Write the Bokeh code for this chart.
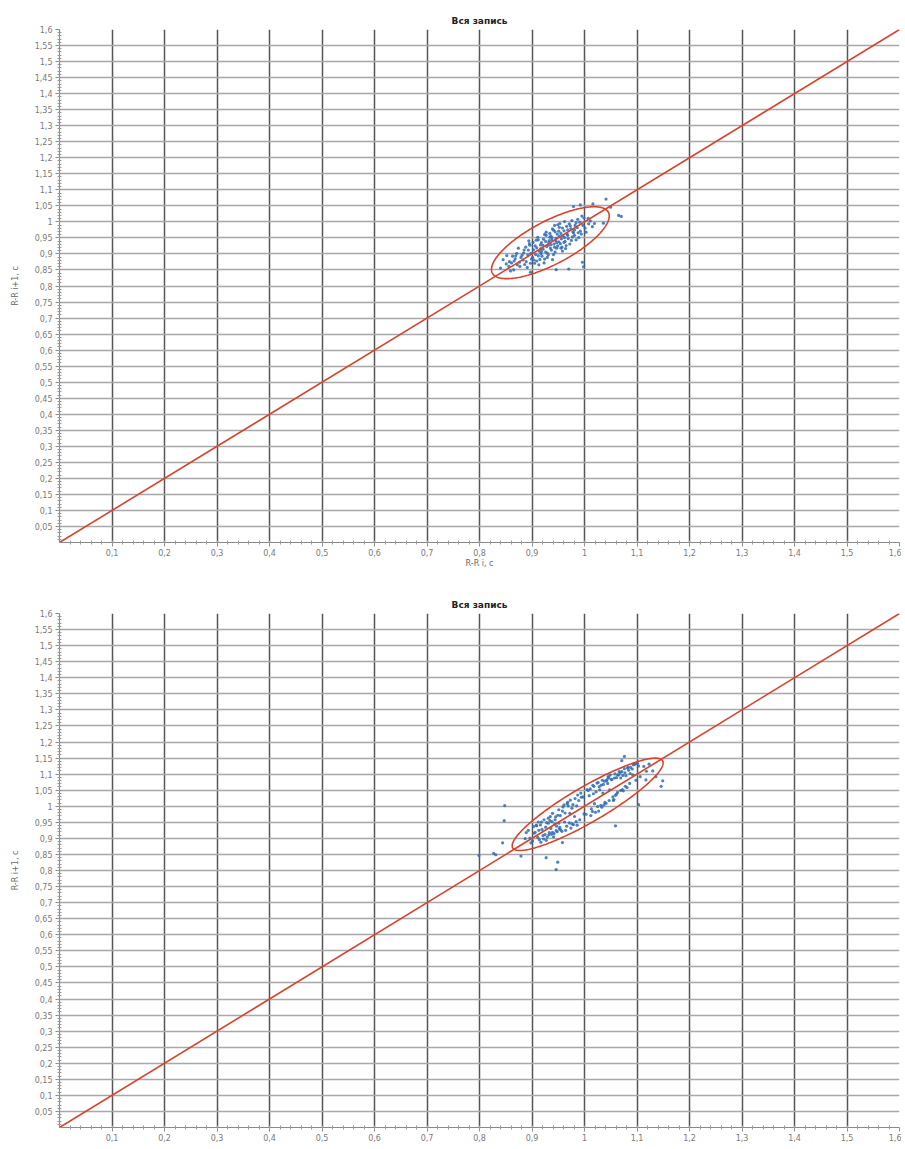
import numpy as np
from bokeh.plotting import figure
from bokeh.layouts import column
from bokeh.models import FixedTicker
from bokeh.embed import file_html
from bokeh.resources import INLINE

title_text = "Вся запись"
x_label = "R-R i, c"
y_label = "R-R i+1, c"

x_ticks = [0.1, 0.2, 0.3, 0.4, 0.5, 0.6, 0.7, 0.8, 0.9, 1.0, 1.1, 1.2, 1.3, 1.4, 1.5, 1.6]
x_tick_labels = ["0,1", "0,2", "0,3", "0,4", "0,5", "0,6", "0,7", "0,8", "0,9", "1",
                 "1,1", "1,2", "1,3", "1,4", "1,5", "1,6"]
y_ticks = [0.05, 0.1, 0.15, 0.2, 0.25, 0.3, 0.35, 0.4, 0.45, 0.5, 0.55, 0.6, 0.65, 0.7, 0.75, 0.8,
           0.85, 0.9, 0.95, 1.0, 1.05, 1.1, 1.15, 1.2, 1.25, 1.3, 1.35, 1.4, 1.45, 1.5, 1.55, 1.6]
y_tick_labels = ["0,05", "0,1", "0,15", "0,2", "0,25", "0,3", "0,35", "0,4", "0,45", "0,5", "0,55",
                 "0,6", "0,65", "0,7", "0,75", "0,8", "0,85", "0,9", "0,95", "1", "1,05", "1,1",
                 "1,15", "1,2", "1,25", "1,3", "1,35", "1,4", "1,45", "1,5", "1,55", "1,6"]

identity_line = [0.0, 1.6]

# chart 1: (RR_i, RR_i+1) pairs
rr1_pairs = [
    (0.912, 0.944), (0.957, 0.921), (0.884, 0.903), (0.973, 0.988), (0.931, 0.897), (0.866, 0.878),
    (0.948, 0.962), (0.992, 0.971), (0.905, 0.871), (0.938, 0.951), (0.877, 0.861), (0.963, 0.939),
    (1.008, 0.994), (0.921, 0.915), (0.896, 0.927), (0.952, 0.983), (0.859, 0.847), (0.981, 0.958),
    (0.927, 0.958), (0.944, 0.906), (0.871, 0.902), (0.999, 1.012), (0.915, 0.883), (0.967, 0.962),
    (0.889, 0.876), (0.936, 0.929), (0.956, 0.947), (0.902, 0.936), (0.984, 0.997), (0.923, 0.872),
    (0.851, 0.869), (0.975, 0.942), (0.941, 0.974), (0.893, 0.912), (0.962, 1.001), (1.015, 0.985),
    (0.918, 0.935), (0.879, 0.889), (0.947, 0.918), (0.907, 0.898), (0.989, 0.951), (0.933, 0.942),
    (0.968, 0.975), (0.863, 0.893), (0.954, 0.932), (0.926, 0.906), (0.899, 0.884), (0.979, 0.966),
    (0.943, 0.989), (0.911, 0.952), (0.886, 0.867), (0.959, 0.956), (1.003, 0.968), (0.928, 0.923),
    (0.874, 0.918), (0.939, 0.882), (0.971, 0.994), (0.917, 0.901), (0.951, 0.938), (0.894, 0.941),
    (0.986, 0.982), (0.934, 0.964), (0.909, 0.878), (0.964, 0.917), (0.881, 0.896), (0.946, 0.949),
    (0.997, 0.989), (0.922, 0.946), (0.856, 0.861), (0.977, 0.953), (0.937, 0.912), (0.903, 0.913),
    (0.961, 0.972), (0.929, 0.889), (1.011, 1.003), (0.891, 0.858), (0.953, 0.995), (0.916, 0.928),
    (0.969, 0.948), (0.942, 0.931), (0.876, 0.874), (0.987, 1.008), (0.924, 0.961), (0.958, 0.909),
    (0.898, 0.902), (0.944, 0.969), (0.913, 0.866), (0.974, 0.979), (0.932, 0.936), (0.868, 0.885),
    (0.994, 0.962), (0.949, 0.925), (0.906, 0.925), (0.966, 0.986), (0.919, 0.893), (0.888, 0.921),
    (0.981, 0.975), (0.935, 0.918), (0.955, 0.964), (0.901, 0.889), (1.019, 0.995), (0.926, 0.939),
    (0.972, 0.931), (0.883, 0.881), (0.945, 0.942), (0.914, 0.909), (0.991, 0.999), (0.939, 0.978),
    (0.861, 0.872), (0.962, 0.951), (0.908, 0.943), (0.929, 0.903), (0.984, 0.944), (0.952, 0.955),
    (0.897, 0.871), (0.921, 0.927), (0.976, 1.004), (0.941, 0.898), (0.872, 0.866), (0.958, 0.981),
    (0.917, 0.917), (1.001, 0.981), (0.934, 0.952), (0.892, 0.897), (0.965, 0.926), (0.947, 0.935),
    (0.909, 0.919), (0.982, 0.989), (0.924, 0.884), (0.869, 0.894), (0.951, 0.971), (0.938, 0.944),
    (0.995, 1.018), (0.912, 0.894), (0.968, 0.958), (0.885, 0.912), (0.943, 0.921), (1.007, 1.011),
    (0.927, 0.968), (0.961, 0.936), (0.904, 0.881), (0.978, 0.969), (0.931, 0.927), (0.857, 0.876),
    (0.949, 0.991), (0.918, 0.907), (0.988, 0.966), (0.895, 0.932), (0.955, 0.918), (0.936, 0.956),
    (1.041, 1.071), (1.050, 1.046), (1.070, 1.017), (1.065, 1.020), (1.036, 0.996), (0.996, 0.874),
    (1.016, 1.056), (0.992, 1.053), (0.979, 1.048), (0.998, 0.860), (0.970, 0.853), (0.946, 0.851),
    (0.897, 0.843), (0.865, 0.850), (0.840, 0.856), (0.845, 0.882), (0.852, 0.895),
]
ellipse1 = {"center": 0.935, "sd1": 0.057, "sd2": 0.148}

# chart 2
rr2_pairs = [
    (0.912, 0.951), (1.034, 1.081), (0.948, 0.921), (1.071, 1.108), (0.993, 1.041), (0.927, 0.894),
    (1.056, 1.021), (0.968, 1.012), (1.012, 0.971), (0.903, 0.937), (1.088, 1.121), (0.951, 0.989),
    (1.027, 0.985), (0.935, 0.968), (1.063, 1.098), (0.986, 0.941), (0.921, 0.909), (1.045, 1.092),
    (0.974, 0.932), (1.098, 1.081), (0.941, 0.905), (1.018, 1.062), (0.896, 0.901), (1.052, 1.083),
    (0.959, 0.998), (1.081, 1.058), (0.931, 0.947), (1.007, 1.049), (0.964, 0.925), (1.039, 1.012),
    (0.917, 0.888), (1.076, 1.117), (0.982, 1.024), (1.024, 1.072), (0.944, 0.958), (1.059, 1.034),
    (0.908, 0.941), (1.093, 1.129), (0.971, 0.948), (1.013, 0.992), (0.937, 0.913), (1.047, 1.018),
    (0.889, 0.918), (1.068, 1.104), (0.955, 0.926), (1.031, 1.003), (0.923, 0.958), (1.084, 1.112),
    (0.991, 0.958), (1.042, 1.079), (0.949, 0.972), (1.016, 1.065), (0.914, 0.896), (1.061, 1.089),
    (0.978, 1.005), (1.103, 1.125), (0.933, 0.918), (1.028, 1.061), (0.962, 0.951), (1.074, 1.048),
    (0.901, 0.892), (1.049, 1.097), (0.987, 1.035), (1.021, 0.981), (0.946, 0.924), (1.091, 1.116),
    (0.926, 0.935), (1.036, 1.068), (0.969, 1.001), (1.066, 1.108), (0.918, 0.951), (1.003, 0.975),
    (0.953, 0.934), (1.079, 1.095), (0.939, 0.978), (1.054, 1.029), (0.984, 0.952), (1.011, 1.054),
    (0.893, 0.925), (1.072, 1.052), (0.958, 0.985), (1.033, 0.997), (0.929, 0.904), (1.086, 1.071),
    (0.997, 1.029), (1.044, 1.071), (0.943, 0.944), (1.019, 1.008), (0.906, 0.919), (1.058, 1.101),
    (0.976, 0.945), (1.097, 1.132), (0.934, 0.955), (1.026, 1.074), (0.966, 0.938), (1.069, 1.088),
    (0.919, 0.928), (1.041, 1.009), (0.989, 1.018), (1.009, 1.033), (0.952, 0.929), (1.082, 1.119),
    (0.925, 0.912), (1.051, 1.084), (0.973, 1.019), (1.106, 1.092), (0.942, 0.915), (1.029, 1.051),
    (0.898, 0.886), (1.063, 1.043), (0.961, 1.004), (1.015, 0.984), (0.931, 0.963), (1.077, 1.104),
    (0.981, 0.968), (1.046, 1.089), (0.911, 0.903), (1.035, 1.041), (0.957, 0.922), (1.092, 1.098),
    (0.936, 0.931), (1.022, 1.045), (0.972, 0.978), (1.055, 1.018), (0.916, 0.942), (1.073, 1.096),
    (0.994, 1.028), (1.038, 1.078), (0.947, 0.938), (1.113, 1.124), (0.928, 0.949), (1.005, 1.052),
    (0.963, 0.979), (1.087, 1.102), (0.904, 0.916), (1.048, 1.051), (0.979, 0.943), (1.065, 1.097),
    (0.939, 0.919), (1.025, 0.999), (0.954, 0.971), (1.101, 1.133), (0.922, 0.898), (1.057, 1.088),
    (0.985, 1.001), (1.032, 1.066), (0.945, 0.967), (1.078, 1.062), (0.913, 0.925), (1.017, 1.039),
    (0.967, 1.008), (1.061, 1.038), (0.932, 0.911), (1.043, 1.083), (0.999, 0.976), (1.118, 1.109),
    (0.951, 0.947), (1.083, 1.121), (0.909, 0.939), (1.037, 1.004), (0.976, 0.994), (1.069, 1.049),
    (0.938, 0.952), (1.123, 1.131), (0.887, 0.899),
    (1.095, 1.130), (1.117, 1.082), (1.130, 1.110), (1.076, 1.155), (1.071, 1.142), (1.136, 1.092),
    (1.146, 1.062), (1.149, 1.079), (1.103, 1.005), (1.059, 0.939), (0.958, 0.887), (0.949, 0.826),
    (0.946, 0.803), (0.927, 0.840), (0.879, 0.845), (0.831, 0.849), (0.844, 0.886), (0.847, 0.955),
    (0.848, 1.002), (0.827, 0.853), (0.799, 0.847),
]
ellipse2 = {"center": 1.006, "sd1": 0.046, "sd2": 0.198}

FONT = "DejaVu Sans"
RED = "#d8432c"
BLUE = "#2f6cb6"


def ellipse_points(e):
    t = np.linspace(0, 2 * np.pi, 241)
    u = e["sd2"] * np.cos(t)
    v = e["sd1"] * np.sin(t)
    xs = e["center"] + (u - v) / np.sqrt(2)
    ys = e["center"] + (u + v) / np.sqrt(2)
    return xs, ys


def make_fig(pairs, ell, height, border_top, border_bottom, with_xlabel):
    xs = [p_[0] for p_ in pairs]
    ys = [p_[1] for p_ in pairs]
    p = figure(width=901, height=height, x_range=(0, 1.6), y_range=(0, 1.6),
               output_backend="svg", toolbar_location=None, title=title_text,
               min_border_left=59, min_border_right=2,
               min_border_top=border_top, min_border_bottom=border_bottom)
    p.outline_line_color = None
    p.background_fill_color = "white"
    p.border_fill_color = "white"
    p.title.align = "center"
    p.title.text_font = FONT
    p.title.text_font_size = "9px"
    p.title.text_font_style = "bold"
    p.title.text_color = "#222222"
    p.title.standoff = 8

    p.xaxis.ticker = FixedTicker(ticks=x_ticks,
                                 minor_ticks=[round(i * 0.02, 2) for i in range(1, 80)])
    p.xaxis.major_label_overrides = dict(zip(x_ticks, x_tick_labels))
    p.yaxis.ticker = FixedTicker(ticks=y_ticks,
                                 minor_ticks=[round(i * 0.01, 2) for i in range(1, 160)])
    p.yaxis.major_label_overrides = dict(zip(y_ticks, y_tick_labels))

    for ax in (p.xaxis[0], p.yaxis[0]):
        ax.axis_line_color = "#8a8a8a"
        ax.axis_line_width = 1.2
        ax.major_tick_line_color = "#8a8a8a"
        ax.minor_tick_line_color = "#9a9a9a"
        ax.major_tick_out = 4
        ax.major_tick_in = 0
        ax.minor_tick_out = 2
        ax.minor_tick_in = 2
        ax.major_label_text_font = FONT
        ax.major_label_text_font_size = "8px"
        ax.major_label_text_color = "#7a7a7a"
        ax.axis_label_text_font = FONT
        ax.axis_label_text_font_size = "8px"
        ax.axis_label_text_font_style = "normal"
        ax.axis_label_text_color = "#6a6a6a"
    p.xaxis.major_label_standoff = 2
    p.yaxis.major_label_standoff = 3
    p.yaxis.axis_label = y_label
    p.yaxis.axis_label_standoff = 12
    if with_xlabel:
        p.xaxis.axis_label = x_label
        p.xaxis.axis_label_standoff = 0

    p.xgrid.ticker = FixedTicker(ticks=x_ticks[:-1])
    p.ygrid.ticker = FixedTicker(ticks=y_ticks[:-1])
    p.xgrid.grid_line_color = "#555555"
    p.xgrid.grid_line_width = 1.5
    p.ygrid.grid_line_color = "#a8a8a8"
    p.ygrid.grid_line_width = 1.5

    p.scatter(xs, ys, marker="circle", size=3.2, fill_color=BLUE, line_color=None, alpha=0.85)
    p.line(identity_line, identity_line, line_color=RED, line_width=1.6)
    ex, ey = ellipse_points(ell)
    p.line(ex, ey, line_color=RED, line_width=1.6)
    return p


p1 = make_fig(rr1_pairs, ellipse1, 586, 29, 44, True)
p2 = make_fig(rr2_pairs, ellipse2, 561, 27, 20, False)

layout = column(p1, p2, spacing=0)
open("out.html", "w").write(file_html(layout, INLINE))
